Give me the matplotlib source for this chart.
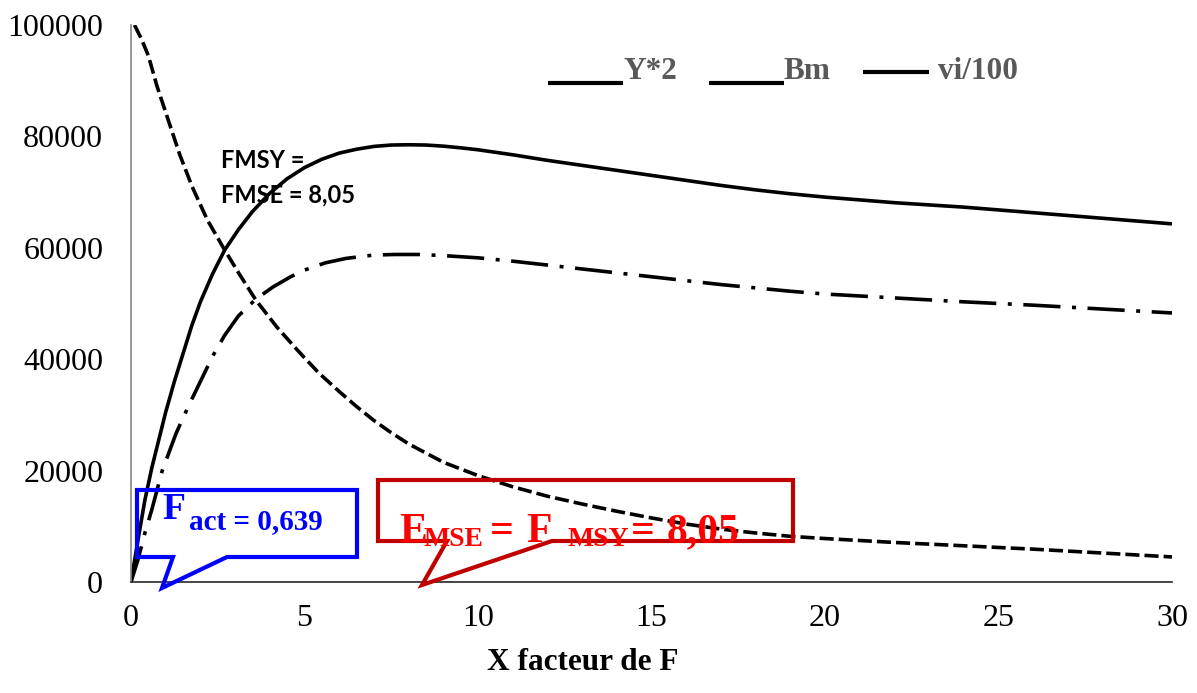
import matplotlib
matplotlib.use("Agg")
import matplotlib.pyplot as plt
from matplotlib.lines import Line2D
from matplotlib.patches import Polygon

# ---- data ----
x_y2 = [0, 0.2, 0.4, 0.6, 0.8, 1.0, 1.25, 1.5, 1.75, 2.0, 2.35, 2.7, 3.1, 3.5, 4.0, 4.5, 5.0, 5.5,
        6.0, 6.5, 7.0, 7.5, 8.0, 8.5, 9.0, 9.5, 10, 11, 12, 13, 14, 15, 16, 17, 18, 19, 20, 21, 22,
        23, 24, 25, 26, 27, 28, 29, 30]
y2_vals = [0, 7500, 14700, 20500, 25500, 30500, 36000, 41000, 46000, 50300, 55300, 59600, 63300,
           66500, 69800, 72400, 74400, 75900, 77000, 77700, 78200, 78450, 78500, 78450, 78250,
           77950, 77600, 76700, 75700, 74800, 73900, 73000, 72100, 71200, 70400, 69700, 69100,
           68600, 68100, 67700, 67300, 66800, 66300, 65800, 65300, 64800, 64300]

x_bm = [0, 0.2, 0.4, 0.6, 0.9, 1.3, 1.65, 2.0, 2.35, 2.7, 3.1, 3.6, 4.1, 4.6, 5.0, 5.6, 6.2, 7.0,
        7.6, 8.3, 9.0, 10, 11, 12, 13, 14, 15, 16, 17, 18, 19, 20, 22, 24, 26, 28, 30]
bm_vals = [0, 4000, 8800, 13000, 20000, 26700, 31500, 36000, 40500, 44300, 47800, 50800, 53000,
           54800, 56000, 57300, 58100, 58700, 58800, 58800, 58600, 58200, 57600, 56900, 56200,
           55500, 54800, 54100, 53400, 52800, 52200, 51700, 51000, 50300, 49700, 49000, 48300]

x_vi = [0.1, 0.3, 0.5, 0.75, 1.07, 1.4, 1.76, 2.2, 2.7, 3.1, 3.6, 4.2, 4.8, 5.4, 6.0, 6.5, 7.0,
        7.5, 8.0, 9, 10, 11, 12, 13, 14, 15, 16, 17, 18, 19, 20, 22, 24, 26, 28, 30]
vi_vals = [100000, 97500, 94500, 89000, 83000, 76800, 71000, 65000, 59600, 55500, 50600, 45800,
           41600, 37600, 34200, 31500, 29000, 26800, 24800, 21500, 19100, 17100, 15400, 14000,
           12700, 11500, 10400, 9500, 8800, 8200, 7800, 7100, 6500, 5900, 5200, 4500]

legend_labels = ["Y*2", "Bm", "vi/100"]
x_ticks = [0, 5, 10, 15, 20, 25, 30]
y_ticks = [0, 20000, 40000, 60000, 80000, 100000]
x_label = "X facteur de F"

W, H = 1197, 693
fig = plt.figure(figsize=(W / 100, H / 100), dpi=100)

def fx(px):
    return px / W

def fy(py):
    return 1 - py / H

ax = fig.add_axes([fx(131), fy(582), fx(1172) - fx(131), (582 - 25) / H])
ax.set_xlim(0, 30)
ax.set_ylim(0, 100000)

lw = 2.6
ax.plot(x_y2, y2_vals, color="black", lw=lw, solid_capstyle="butt", solid_joinstyle="round")
ax.plot(x_bm, bm_vals, color="black", lw=lw, dashes=(10.3, 3.2, 1.1, 3.2), dash_capstyle="butt")
ax.plot(x_vi, vi_vals, color="black", lw=lw, dashes=(3.9, 1.4), dash_capstyle="butt")

serif = "Liberation Serif"
ax.set_xticks(x_ticks)
ax.set_yticks(y_ticks)
ax.set_xticklabels([str(v) for v in x_ticks], fontfamily=serif, fontsize=23)
ax.set_yticklabels([str(v) for v in y_ticks], fontfamily=serif, fontsize=23)
ax.tick_params(axis="both", length=0)
ax.tick_params(axis="y", pad=20)
ax.tick_params(axis="x", pad=16)
for s in ["top", "right"]:
    ax.spines[s].set_visible(False)
ax.spines["left"].set_color("#868686")
ax.spines["left"].set_linewidth(1.2)
ax.spines["bottom"].set_color("#262626")
ax.spines["bottom"].set_linewidth(1.2)

fig.text(fx(583), fy(670), x_label, ha="center", va="baseline", fontfamily=serif,
         fontsize=22.5, fontweight="bold", color="black")

# ---- legend (drawn manually, as in the reference) ----
legend_items = [
    ((548, 623), 83, 623),
    ((709, 784), 83, 784),
    ((863, 929), 72, 938),
]
for label, ((x0, x1), ly, tx) in zip(legend_labels, legend_items):
    fig.add_artist(Line2D([fx(x0), fx(x1)], [fy(ly), fy(ly)], color="black", lw=3,
                          transform=fig.transFigure, solid_capstyle="butt"))
    fig.text(fx(tx), fy(79), label, ha="left", va="baseline", fontfamily=serif,
             fontsize=22.5, fontweight="bold", color="#595959")

# ---- FMSY annotation ----
fig.text(fx(221), fy(168), "FMSY =", ha="left", va="baseline", fontfamily="Lato",
         fontsize=17, fontweight="bold", color="black")
fig.text(fx(221), fy(202), "FMSE = 8,05", ha="left", va="baseline", fontfamily="Lato",
         fontsize=17, fontweight="bold", color="black")

# ---- blue callout ----
blue_pts = [(137, 490), (357, 490), (357, 557), (227, 557), (162, 588), (173, 557), (137, 557)]
fig.add_artist(Polygon([(fx(a), fy(b)) for a, b in blue_pts], closed=True, fill=False,
                       edgecolor="#0000FF", lw=3, joinstyle="miter", transform=fig.transFigure))
fig.text(fx(162), fy(519), "F", ha="left", va="baseline", fontfamily=serif, fontsize=27,
         fontweight="bold", color="#0000FF")
fig.text(fx(189), fy(529), "act = 0,639", ha="left", va="baseline", fontfamily=serif,
         fontsize=21, fontweight="bold", color="#0000FF")

# ---- red callout ----
red_pts = [(378, 480), (793, 480), (793, 541), (552, 541), (422, 585), (447, 541), (378, 541)]
fig.add_artist(Polygon([(fx(a), fy(b)) for a, b in red_pts], closed=True, fill=False,
                       edgecolor="#C00000", lw=3, joinstyle="miter", transform=fig.transFigure))
red = "#FF0000"
pieces = [
    (399, 542, "E", 30),
    (424, 546, "MSE", 20),
    (490, 542, "=", 30),
    (526, 542, "F", 30),
    (567, 546, "MSY", 20),
    (631, 542, "=", 30),
    (667, 542, "8,05", 30),
]
for px, py, t, fs in pieces:
    fig.text(fx(px), fy(py), t, ha="left", va="baseline", fontfamily=serif, fontsize=fs,
             fontweight="bold", color=red)

fig.savefig("out.png", dpi=100)
